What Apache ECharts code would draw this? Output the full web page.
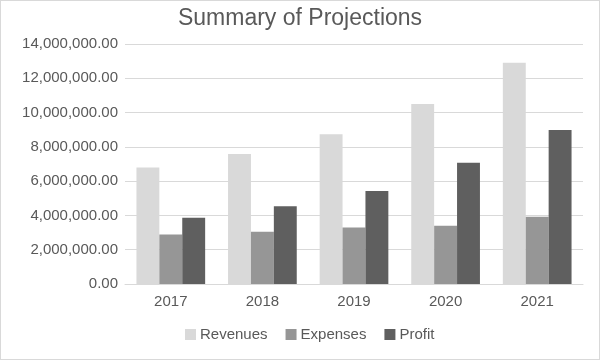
<!DOCTYPE html>
<html><head><meta charset="utf-8">
<script src="https://cdn.jsdelivr.net/npm/echarts@6/dist/echarts.min.js"></script>
<style>html,body{margin:0;padding:0;background:#fff}#c{width:598px;height:358px;border:1px solid #d9d9d9}</style>
</head><body><div id="c"></div>
<script>
const categories = ['2017','2018','2019','2020','2021'];
const revenues = [6790000, 7580000, 8730000, 10500000, 12910000];
const expenses = [2890000, 3050000, 3300000, 3400000, 3930000];
const profit = [3870000, 4530000, 5430000, 7080000, 8980000];
const seriesNames = ['Revenues','Expenses','Profit'];

function fmt(v){
  return Number(v).toLocaleString('en-US',{minimumFractionDigits:2,maximumFractionDigits:2});
}
const chart = echarts.init(document.getElementById('c'), null, {renderer:'canvas'});
const font = 'Arial, "Liberation Sans", sans-serif';
chart.setOption({
  animation:false,
  title:{text:'Summary of Projections',left:'center',top:1,textStyle:{fontFamily:font,fontSize:23,fontWeight:'normal',color:'#595959'}},
  grid:{left:124,right:16,top:43,bottom:75},
  legend:{left:179,bottom:12,itemWidth:11,itemHeight:11,itemGap:18,itemStyle:{borderWidth:0},icon:'rect',textStyle:{fontFamily:font,fontSize:15,color:'#595959',padding:[0,0,0,-1]},data:seriesNames},
  xAxis:{type:'category',data:categories,axisTick:{show:false},axisLine:{lineStyle:{color:'#d9d9d9'}},
    axisLabel:{fontFamily:font,fontSize:15,color:'#595959',margin:10}},
  yAxis:{type:'value',min:0,max:14000000,interval:2000000,axisLine:{show:false},axisTick:{show:false},
    splitLine:{lineStyle:{color:'#d9d9d9'}},
    axisLabel:{fontFamily:font,fontSize:15,color:'#595959',margin:7,formatter:fmt}},
  series:[
    {name:seriesNames[0],type:'bar',data:revenues,itemStyle:{color:'#d9d9d9'},barGap:'0%',barCategoryGap:'25%'},
    {name:seriesNames[1],type:'bar',data:expenses,itemStyle:{color:'#969696'},barGap:'0%',barCategoryGap:'25%'},
    {name:seriesNames[2],type:'bar',data:profit,itemStyle:{color:'#5f5f5f'},barGap:'0%',barCategoryGap:'25%'}
  ]
});
</script></body></html>
